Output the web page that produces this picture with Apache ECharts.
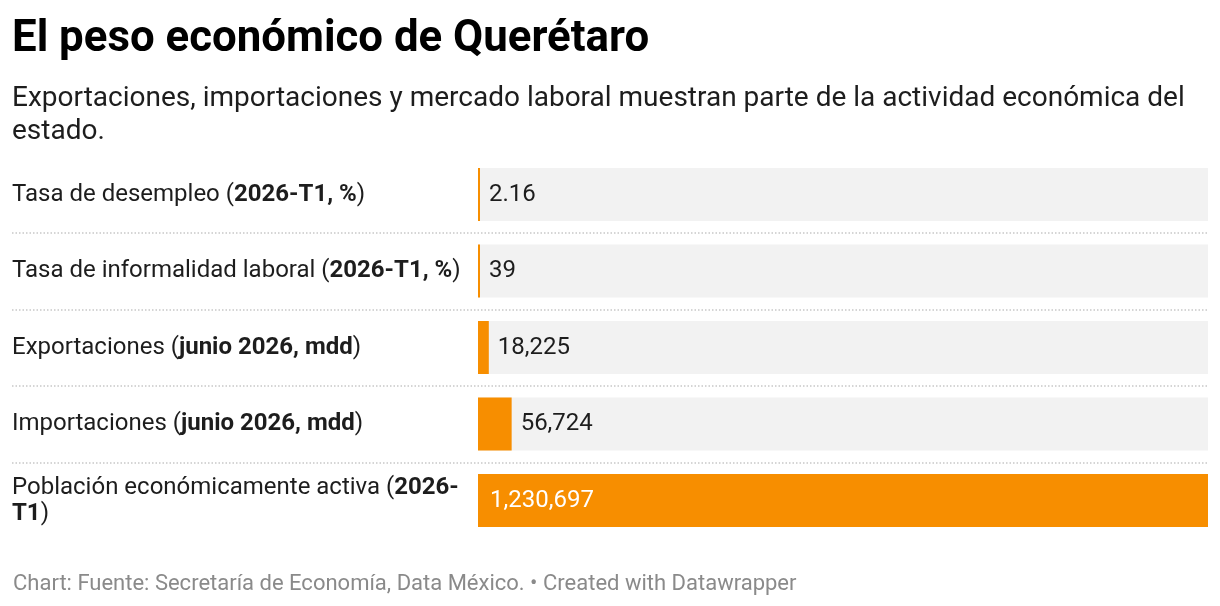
<!DOCTYPE html>
<html>
<head>
<meta charset="utf-8">
<script src="https://cdn.jsdelivr.net/npm/echarts@6/dist/echarts.min.js"></script>
<style>
  html, body { margin: 0; padding: 0; background: #fff; }
  #chart { width: 1220px; height: 606px; }
</style>
</head>
<body>
<div id="chart"></div>
<script>
// datos
var categorias = ['Tasa de desempleo', 'Tasa de informalidad laboral', 'Exportaciones', 'Importaciones', 'Población económicamente activa'];
var periodos = ['2026-T1, %', '2026-T1, %', 'junio 2026, mdd', 'junio 2026, mdd', '2026-\nT1'];
var valores = [2.16, 39, 18225, 56724, 1230697];
var etiquetas = ['2.16', '39', '18,225', '56,724', '1,230,697'];

var naranja = '#f78e00';
var fuente = 'Roboto, "Noto Sans", sans-serif';

var chart = echarts.init(document.getElementById('chart'));

// el ultimo va con la etiqueta blanca dentro de la barra
var datosBarras = valores.map(function (v, i) {
  var item = { value: v };
  if (i == valores.length - 1) {
    item.label = { position: 'insideLeft', distance: 12, color: '#ffffff' };
  }
  return item;
});

var option = {
  backgroundColor: '#ffffff',
  animation: false,
  title: [
    {
      text: 'El peso económico de Querétaro',
      left: 7, top: 13,
      textStyle: { fontFamily: fuente, fontSize: 43.8, fontWeight: 'bold', color: '#000000', lineHeight: 44 }
    },
    {
      text: 'Exportaciones, importaciones y mercado laboral muestran parte de la actividad económica del estado.',
      left: 7, top: 77,
      textStyle: { fontFamily: fuente, fontSize: 28, fontWeight: 'normal', color: '#1d1d1d', lineHeight: 33, width: 1200, overflow: 'break' }
    },
    {
      text: 'Chart: Fuente: Secretaría de Economía, Data México. • Created with Datawrapper',
      left: 8, top: 568,
      textStyle: { fontFamily: fuente, fontSize: 22, fontWeight: 'normal', color: '#8a8a8a', lineHeight: 22 }
    }
  ],
  grid: [
    { left: 12, right: 12, top: 156.25, height: 382.5 },   // separadores
    { left: 478, right: 12, top: 156.25, height: 382.5 }   // barras
  ],
  xAxis: [
    { gridIndex: 0, type: 'value', show: false, min: 0, max: 1 },
    { gridIndex: 1, type: 'value', show: false, min: 0, max: 1230697 }
  ],
  yAxis: [
    {
      gridIndex: 0, type: 'category', inverse: true, data: categorias,
      axisLine: { show: false }, axisTick: { show: false }, axisLabel: { show: false },
      splitLine: {
        show: true, showMinLine: false, showMaxLine: false,
        lineStyle: { color: '#c8c8c8', width: 1.5, type: [1.5, 2] }
      }
    },
    {
      gridIndex: 1, type: 'category', inverse: true, data: categorias,
      axisLine: { show: false }, axisTick: { show: false }, splitLine: { show: false },
      axisLabel: {
        margin: 466, align: 'left',
        fontFamily: fuente, fontSize: 24, color: '#1d1d1d', lineHeight: 26,
        formatter: function (val, i) {
          return val + ' ({b|' + periodos[i] + '})';
        },
        rich: {
          b: { fontFamily: fuente, fontSize: 24, fontWeight: 'bold', color: '#1d1d1d', lineHeight: 26 }
        }
      }
    }
  ],
  series: [
    {
      type: 'bar',
      xAxisIndex: 1, yAxisIndex: 1,
      barWidth: 53,
      barMinHeight: 2,
      itemStyle: { color: naranja },
      showBackground: true,
      backgroundStyle: { color: '#f2f2f2' },
      label: {
        show: true, position: 'right', distance: 9,
        fontFamily: fuente, fontSize: 24, color: '#1d1d1d',
        formatter: function (p) { return etiquetas[p.dataIndex]; }
      },
      data: datosBarras
    }
  ]
};

chart.setOption(option);
</script>
</body>
</html>
